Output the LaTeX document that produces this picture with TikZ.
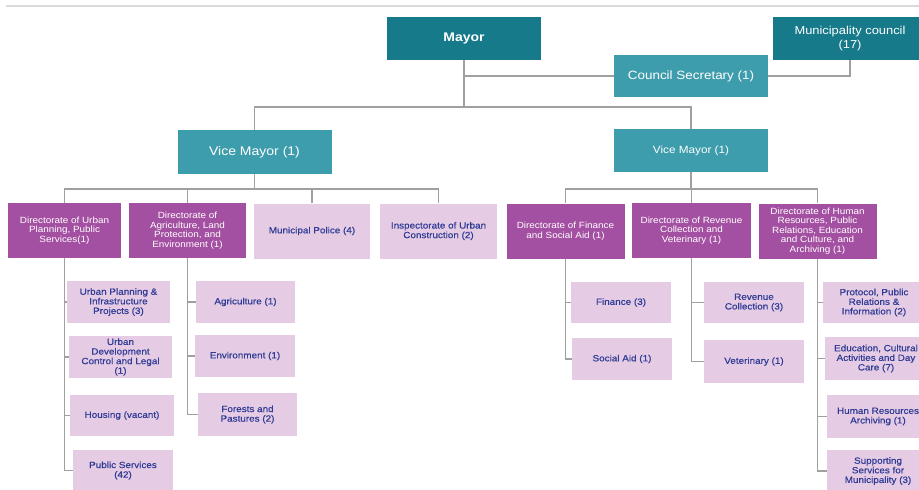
\documentclass[tikz,border=0pt]{standalone}
\usepackage{fontspec}
\setmainfont{Liberation Sans}[FakeStretch=1.12]
\newfontfamily\smallfam{Liberation Sans}[FakeStretch=1.1]
\newfontfamily\unitfam{Liberation Sans}[FakeStretch=1.1, FakeBold=0.6]
\definecolor{tealD}{RGB}{22,122,138}
\definecolor{tealL}{RGB}{62,157,172}
\definecolor{plum}{RGB}{164,80,162}
\definecolor{lilac}{RGB}{229,204,228}
\definecolor{navy}{RGB}{48,60,150}
\definecolor{wire}{RGB}{160,160,160}

\begin{document}
\begin{tikzpicture}[x=1pt, y=-1pt,
  box/.style={align=center, inner sep=2pt, text=white},
  head/.style={box, fill=tealD, minimum width=154pt, minimum height=43pt},
  aide/.style={box, fill=tealL, minimum width=154pt, minimum height=43pt},
  dir/.style={box, fill=plum, minimum width=117pt, minimum height=55pt,
              font=\smallfam\fontsize{9}{9.6}\selectfont},
  unit/.style={box, fill=lilac, text=navy, minimum width=100pt,
               minimum height=42pt, font=\unitfam\fontsize{9}{9.6}\selectfont},
  link/.style={draw=wire, line width=1.1pt}]

\useasboundingbox (0,0) rectangle (919,490);
\clip (0,0) rectangle (919,490);
\fill[white] (0,0) rectangle (919,490);
\draw[black!15, line width=1.5pt] (6,6) -- (919,6);

% top level
\node[head, font=\fontsize{12.5}{14}\selectfont\bfseries] (mayor) at (464,38.5) {Mayor};
\node[head, font=\fontsize{11.5}{14}\selectfont] (council) at (850,38.5)
  {Municipality council\\(17)};
\node[aide, minimum height=42pt, font=\fontsize{12}{14}\selectfont] (cs) at (691,76)
  {Council Secretary (1)};
\node[aide, minimum height=44pt, font=\fontsize{12.5}{14}\selectfont] (vmL) at (254.5,152)
  {Vice Mayor (1)};
\node[aide, font=\fontsize{10.5}{12}\selectfont] (vmR) at (691,150.5) {Vice Mayor (1)};

% directorates
\node[dir, minimum width=113pt] (dUP) at (64.5,230.5)
  {Directorate of Urban\\Planning, Public\\Services(1)};
\node[dir] (dAg) at (187.5,230.5)
  {Directorate of\\Agriculture, Land\\Protection, and\\Environment (1)};
\node[unit, minimum width=116pt, minimum height=55pt] (pol) at (312,231)
  {Municipal Police (4)};
\node[unit, minimum width=117pt, minimum height=55pt] (insp) at (438.5,231)
  {Inspectorate of Urban\\Construction (2)};
\node[dir, minimum width=118pt] (dFin) at (565.5,231) {Directorate of Finance\\and Social Aid (1)};
\node[dir, minimum width=119pt] (dRev) at (691.5,230.5)
  {Directorate of Revenue\\Collection and\\Veterinary (1)};
\node[dir, minimum width=118pt] (dHR) at (817.5,231)
  {Directorate of Human\\Resources, Public\\Relations, Education\\and Culture, and\\Archiving (1)};

% units
\node[unit, minimum width=103pt] (upi) at (118.5,302) {Urban Planning \&\\Infrastructure\\Projects (3)};
\node[unit, minimum width=103pt] (udc) at (120.5,357) {Urban\\Development\\Control and Legal\\(1)};
\node[unit, minimum width=104pt, minimum height=41pt] (hou) at (122,415.5) {Housing (vacant)};
\node[unit, minimum height=41pt] (pub) at (123,470.5) {Public Services\\(42)};
\node[unit, minimum width=99pt] (agr) at (245.5,302) {Agriculture (1)};
\node[unit] (env) at (245,356) {Environment (1)};
\node[unit, minimum width=99pt, minimum height=43pt] (fop) at (247.5,414.5) {Forests and\\Pastures (2)};
\node[unit, minimum height=41pt] (fin) at (621,302.5) {Finance (3)};
\node[unit] (soc) at (622,359) {Social Aid (1)};
\node[unit, minimum height=41pt] (rev) at (754,302.5) {Revenue\\Collection (3)};
\node[unit, minimum height=43pt] (vet) at (754,361.5) {Veterinary (1)};
\node[unit, minimum width=102pt, minimum height=41pt] (pro) at (874,302.5)
  {Protocol, Public\\Relations \&\\Information (2)};
\node[unit, minimum width=102pt, minimum height=43pt] (edu) at (876,358.5)
  {Education, Cultural\\Activities and Day\\Care (7)};
\node[unit, minimum width=102pt, minimum height=43pt] (hr) at (878,416.5)
  {Human Resources\\Archiving (1)};
\node[unit, minimum width=102pt] (sup) at (878,471)
  {Supporting\\Services for\\Municipality (3)};

% connectors
\coordinate (busTop) at (464,107);
\coordinate (busL) at (254.5,189);
\coordinate (busR) at (691,189);
\draw[link] (mayor.south) -- (busTop);
\draw[link] (vmL.north) |- (busTop) -| (vmR.north);
\draw[link] (cs.west) -- (cs.west -| mayor.south);
\draw[link] (cs.east) -| (council.south);
\draw[link] (vmL.south) -- (busL);
\draw[link] (dUP.north) |- (busL) -| (insp.north);
\foreach \n in {dAg,pol} \draw[link] (\n.north) -- (\n.north |- busL);
\draw[link] (vmR.south) -- (busR);
\draw[link] (dFin.north) |- (busR) -| (dHR.north);
\draw[link] (dRev.north) -- (dRev.north |- busR);
\foreach \n in {upi,udc,hou,pub} \draw[link] (dUP.south) |- (\n.west);
\foreach \n in {agr,env,fop} \draw[link] (dAg.south) |- (\n.west);
\foreach \n in {fin,soc} \draw[link] (dFin.south) |- (\n.west);
\foreach \n in {rev,vet} \draw[link] (dRev.south) |- (\n.west);
\foreach \n in {pro,edu,hr,sup} \draw[link] (dHR.south) |- (\n.west);
\end{tikzpicture}
\end{document}
